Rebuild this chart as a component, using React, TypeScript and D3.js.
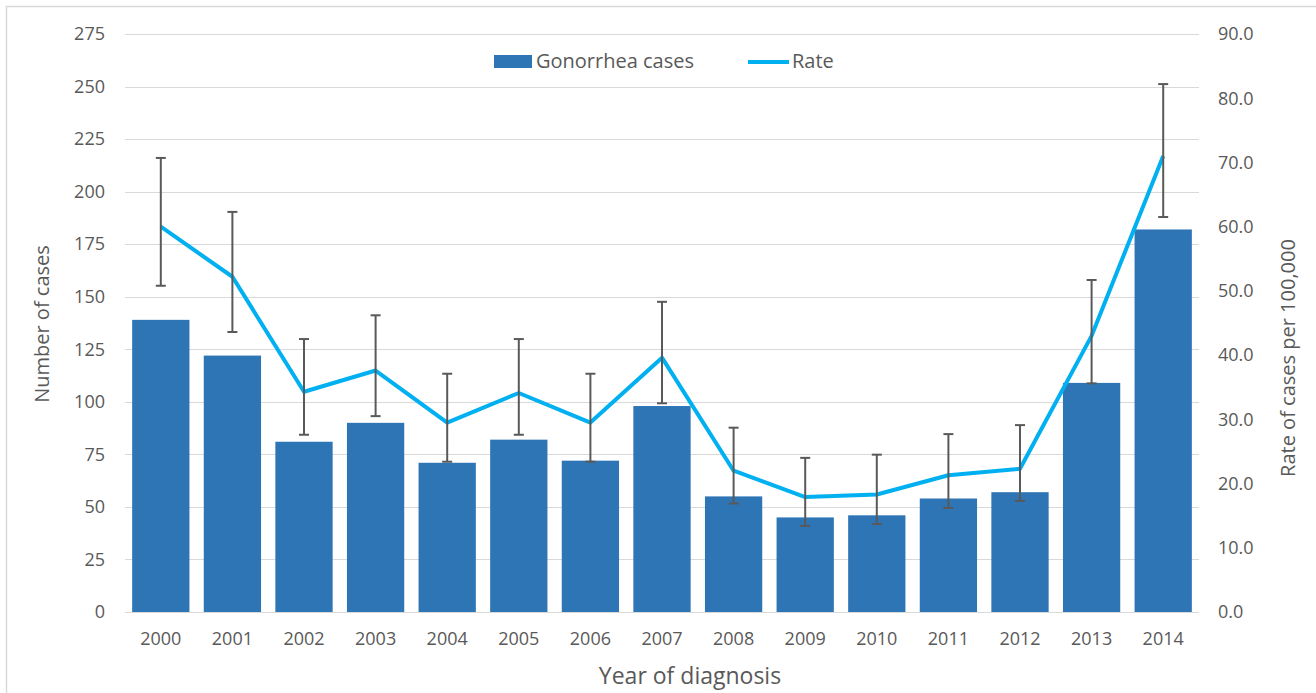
import React from 'react';
import * as d3 from 'd3';

// Gonorrhea cases and rate per 100,000, 2000-2014
const years = ['2000', '2001', '2002', '2003', '2004', '2005', '2006', '2007', '2008', '2009', '2010', '2011', '2012', '2013', '2014'];
const cases = [139, 122, 81, 90, 71, 82, 72, 98, 55, 45, 46, 54, 57, 109, 182];
const rate = [60.0, 52.2, 34.3, 37.6, 29.5, 34.1, 29.5, 39.6, 22.0, 17.9, 18.3, 21.3, 22.3, 43.0, 71.0];
const rateLow = [50.8, 43.6, 27.6, 30.5, 23.4, 27.6, 23.4, 32.5, 16.9, 13.4, 13.7, 16.2, 17.3, 35.6, 61.5];
const rateHigh = [70.7, 62.3, 42.5, 46.2, 37.1, 42.5, 37.1, 48.3, 28.7, 24.0, 24.5, 27.7, 29.1, 51.7, 82.2];
const caseTicks = [0, 25, 50, 75, 100, 125, 150, 175, 200, 225, 250, 275];
const rateTicks = [0, 10, 20, 30, 40, 50, 60, 70, 80, 90];

const W = 1316;
const H = 693;
const m = { left: 125, right: 1199, top: 34, bottom: 612 };
const font = '"Open Sans", "Noto Sans", sans-serif';
const txt = '#595959';

export default function App() {
  const x = d3.scaleBand<string>().domain(years).range([m.left, m.right]).paddingInner(0.2).paddingOuter(0.1);
  const yC = d3.scaleLinear().domain([0, 275]).range([m.bottom, m.top]);
  const yR = d3.scaleLinear().domain([0, 90]).range([m.bottom, m.top]);
  const cx = (i: number) => (x(years[i]) as number) + x.bandwidth() / 2;

  const line = d3.line<number>().x((d, i) => cx(i)).y(d => yR(d));
  const fmt = d3.format('.1f');

  return (
    <svg width={W} height={H} style={{ position: 'absolute', left: 0, top: 0, background: '#fff' }} fontFamily={font}>
      <rect x={6.5} y={6.5} width={W + 20} height={H + 20} fill="#fff" stroke="#d9d9d9" strokeWidth={1.5} />

      {/* gridlines */}
      {caseTicks.map(t => (
        <line key={t} x1={m.left} x2={m.right} y1={Math.round(yC(t)) + 0.5} y2={Math.round(yC(t)) + 0.5} stroke="#d9d9d9" strokeWidth={1.2} />
      ))}

      {/* bars */}
      {cases.map((v, i) => (
        <rect key={years[i]} x={x(years[i])} y={yC(v)} width={x.bandwidth()} height={yC(0) - yC(v)} fill="#2e75b6" />
      ))}

      {/* rate line */}
      <path d={line(rate) || ''} fill="none" stroke="#00b0f0" strokeWidth={4} strokeLinejoin="round" />

      {/* error bars */}
      {rate.map((v, i) => {
        const px = cx(i);
        return (
          <g key={'e' + i} stroke="#595959" strokeWidth={2}>
            <line x1={px} x2={px} y1={yR(rateHigh[i])} y2={yR(rateLow[i])} />
            <line x1={px - 5} x2={px + 5} y1={yR(rateHigh[i])} y2={yR(rateHigh[i])} />
            <line x1={px - 5} x2={px + 5} y1={yR(rateLow[i])} y2={yR(rateLow[i])} />
          </g>
        );
      })}

      {/* left axis */}
      {caseTicks.map(t => (
        <text key={'l' + t} x={105} y={yC(t)} dy="0.35em" textAnchor="end" fontSize={18} fill={txt}>{t}</text>
      ))}
      {/* right axis */}
      {rateTicks.map(t => (
        <text key={'r' + t} x={1218} y={yR(t)} dy="0.35em" textAnchor="start" fontSize={18} fill={txt}>{fmt(t)}</text>
      ))}
      {/* x axis labels */}
      {years.map((yr, i) => (
        <text key={'x' + yr} x={cx(i)} y={645} textAnchor="middle" fontSize={18} fill={txt}>{yr}</text>
      ))}

      <text x={690} y={684} textAnchor="middle" fontSize={23} fill={txt}>Year of diagnosis</text>
      <text transform="translate(42,324) rotate(-90)" textAnchor="middle" dy="0.35em" fontSize={20} fill={txt}>Number of cases</text>
      <text transform="translate(1288,358) rotate(-90)" textAnchor="middle" dy="0.35em" fontSize={20} fill={txt}>Rate of cases per 100,000</text>

      {/* legend */}
      <rect x={494} y={55} width={38} height={13} fill="#2e75b6" />
      <text x={536} y={61} dy="0.35em" fontSize={20} fill={txt}>Gonorrhea cases</text>
      <line x1={748} x2={789} y1={62} y2={62} stroke="#00b0f0" strokeWidth={4} />
      <text x={792} y={61} dy="0.35em" fontSize={20} fill={txt}>Rate</text>
    </svg>
  );
}
